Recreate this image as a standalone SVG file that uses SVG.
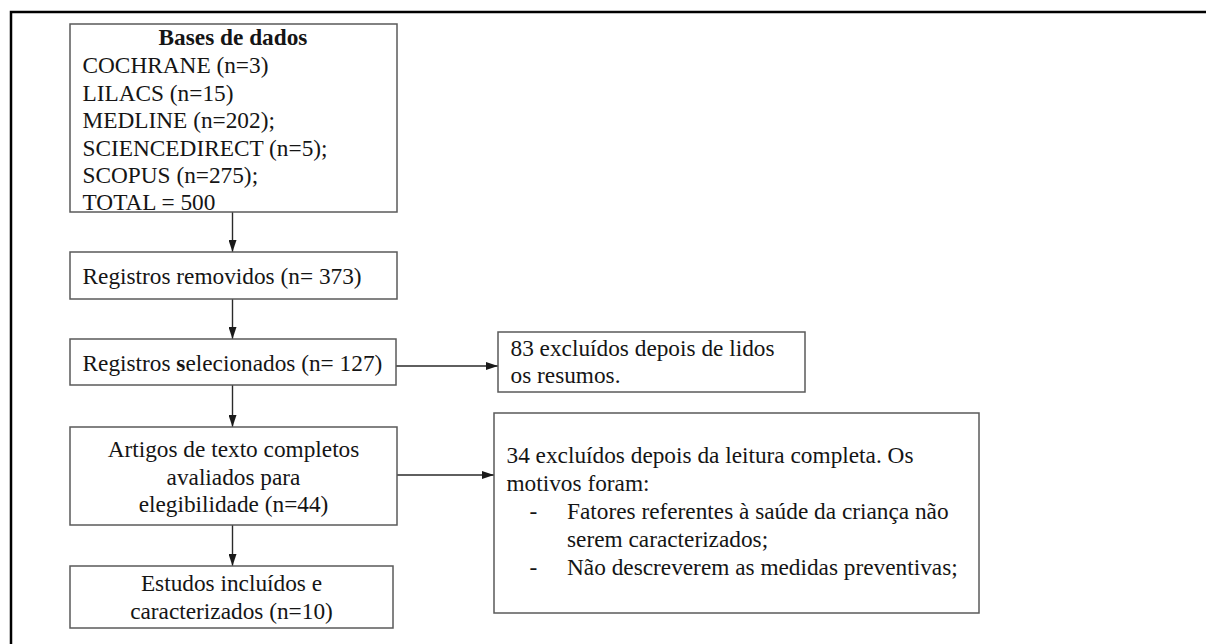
<svg xmlns="http://www.w3.org/2000/svg" width="1206" height="644" viewBox="0 0 1206 644">
<defs>
<style>
.box{fill:#fff;stroke:#5a5a5a;stroke-width:1.5}
.t{font-family:'Liberation Serif','Times New Roman',Times,'DejaVu Serif',serif;font-size:23.3px;fill:#151515}
.c{text-anchor:middle}
.b{font-weight:bold}
.edge{stroke:#2a2a2a;stroke-width:1.4;fill:none}
</style>
<marker id="ah" viewBox="0 0 12 8" refX="12" refY="4" markerWidth="12" markerHeight="8" markerUnits="userSpaceOnUse" orient="auto">
<path d="M0,0 L12,4 L0,8 Z" fill="#1a1a1a"/>
</marker>
</defs>
<rect width="1206" height="644" fill="#fff"/>
<path d="M11,644 V12 H1206" fill="none" stroke="#000" stroke-width="2.5"/>
<g id="connectors">
<line class="edge" x1="232.5" y1="212" x2="232.5" y2="252" marker-end="url(#ah)"/>
<line class="edge" x1="232.5" y1="299" x2="232.5" y2="339" marker-end="url(#ah)"/>
<line class="edge" x1="232.5" y1="385" x2="232.5" y2="427" marker-end="url(#ah)"/>
<line class="edge" x1="232.5" y1="525" x2="232.5" y2="566" marker-end="url(#ah)"/>
<line class="edge" x1="396" y1="366" x2="498" y2="366" marker-end="url(#ah)"/>
<line class="edge" x1="397" y1="475" x2="494" y2="475" marker-end="url(#ah)"/>
</g>
<g id="bases">
<rect class="box" x="70" y="24" width="327" height="188"/>
<text class="t b c" x="233" y="45">Bases de dados</text>
<text class="t" x="82.5" y="73">COCHRANE (n=3)</text>
<text class="t" x="82.5" y="100.5">LILACS (n=15)</text>
<text class="t" x="82.5" y="128">MEDLINE (n=202);</text>
<text class="t" x="82.5" y="155.5">SCIENCEDIRECT (n=5);</text>
<text class="t" x="82.5" y="183">SCOPUS (n=275);</text>
<text class="t" x="82.5" y="210">TOTAL = 500</text>
</g>
<g id="removidos">
<rect class="box" x="70" y="252" width="327" height="47"/>
<text class="t" x="82.5" y="283.5">Registros removidos (n= 373)</text>
</g>
<g id="selecionados">
<rect class="box" x="70" y="339" width="326" height="46"/>
<text class="t" x="82.5" y="370.5">Registros <tspan class="b">s</tspan>elecionados (n= 127)</text>
</g>
<g id="artigos">
<rect class="box" x="70" y="427" width="327" height="98"/>
<text class="t c" x="233.5" y="457">Artigos de texto completos</text>
<text class="t c" x="233.5" y="484.5">avaliados para</text>
<text class="t c" x="233.5" y="512">elegibilidade (n=44)</text>
</g>
<g id="estudos">
<rect class="box" x="70" y="566" width="323" height="62"/>
<text class="t c" x="231.5" y="591">Estudos incluídos e</text>
<text class="t c" x="231.5" y="618.5">caracterizados (n=10)</text>
</g>
<g id="excluidos83">
<rect class="box" x="498" y="332" width="307" height="60"/>
<text class="t" x="510.5" y="356">83 excluídos depois de lidos</text>
<text class="t" x="510.5" y="383">os resumos.</text>
</g>
<g id="excluidos34">
<rect class="box" x="494" y="413" width="485" height="200"/>
<text class="t" x="506.5" y="463">34 excluídos depois da leitura completa. Os</text>
<text class="t" x="506.5" y="491">motivos foram:</text>
<text class="t" x="529.5" y="519">-</text>
<text class="t" x="567" y="519">Fatores referentes à saúde da criança não</text>
<text class="t" x="567" y="547">serem caracterizados;</text>
<text class="t" x="529.5" y="575">-</text>
<text class="t" x="567" y="575">Não descreverem as medidas preventivas;</text>
</g>
</svg>
